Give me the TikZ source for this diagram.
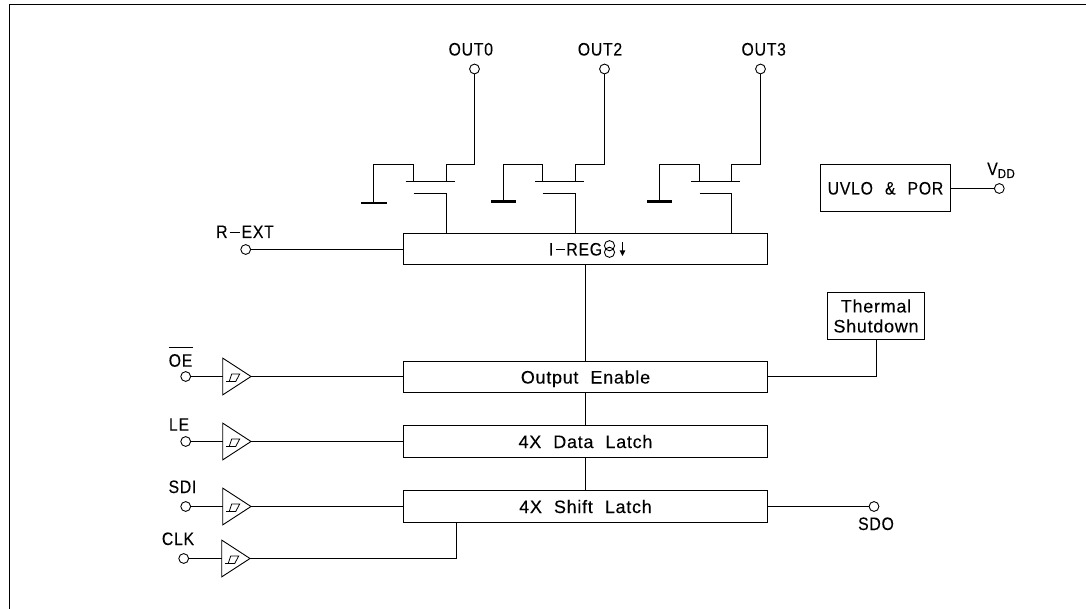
\documentclass[tikz,border=0pt]{standalone}
\usepackage{fontspec}
\setmainfont[LetterSpace=4,FakeBold=0.12]{Liberation Sans}
\newfontfamily\capf[LetterSpace=4,FakeStretch=0.88,FakeBold=0.12]{Liberation Sans}
\usetikzlibrary{calc}
\tikzset{
  wire/.style={line width=1pt,line join=miter},
  pin/.style={circle,draw,line width=0.9pt,minimum size=9.8pt,inner sep=0pt,fill=white},
  block/.style={rectangle,draw,line width=1pt,inner sep=0pt,text height=13pt,text depth=0pt,align=center},
  wideblock/.style={block,minimum width=364pt,minimum height=31pt},
  lbl/.style={inner sep=0pt,text height=13pt,text depth=0pt,anchor=base,font=\fs\capf},
  buf/.style={draw,line width=0.9pt},
  hyst/.style={line width=0.8pt}
}
\newcommand{\fs}{\fontsize{18}{20}\selectfont}
\newcommand{\wgap}{\hspace{12pt}}
\newcommand{\buffer}[3]{% name, left x, centre y
  \coordinate (#1) at (#2,#3);
  \draw[buf] (#2,#3-18.4) -- (#2+28.3,#3) -- (#2,#3+18.4) -- cycle;
  \draw[hyst] (#2+3.5,#3+5) -- (#2+13,#3+5) -- (#2+17,#3-2.5) -- (#2+9,#3-2.5) -- (#2+6.5,#3+5);
}
\begin{document}
\begin{tikzpicture}[x=1pt,y=-1pt,every node/.append style={font=\fs}]
\useasboundingbox (0,0) rectangle (1086,609);
\draw[line width=1.2pt] (9.5,609) -- (9.5,4.5) -- (1086,4.5);

% main blocks
\node[wideblock] (ireg) at (585.5,249) {\capf\hspace{-21pt}I\hspace{3pt}\rule[5pt]{9pt}{1.2pt}\hspace{1pt}REG\hspace{-1pt}};
\node[wideblock] (oen) at (585.5,377) {Output\wgap Enable};
\node[wideblock,minimum height=32pt] (dl) at (585.5,441.5) {4X\wgap Data\wgap Latch};
\node[wideblock,minimum height=32pt] (sl) at (585.5,506.5) {4X\wgap Shift\wgap Latch};
\node[block,minimum width=130pt,minimum height=47pt] (uvlo) at (885.5,188) {\capf UVLO\hspace{12pt}\&\hspace{12pt}POR};
\node[rectangle,draw,line width=1pt,inner sep=0pt,minimum width=97pt,minimum height=47pt,align=center] (therm) at (876,316) {Thermal\\[0pt]Shutdown};

% current source symbol
\coordinate (isym) at (609.5,249);
\draw[line width=0.9pt] ($(isym)+(0,-3.3)$) circle (5.1pt);
\draw[line width=0.9pt] ($(isym)+(0,3.3)$) circle (5.1pt);
\coordinate (arrt) at (622.5,242.5);
\coordinate (arrb) at (622.5,256);
\draw[line width=1pt] (arrt) -- ($(arrb)+(0,-4)$);
\fill (619.7,250.5) -- (625.3,250.5) -- (arrb) -- cycle;

% pins
\node[pin] (out0) at (474.5,69) {};
\node[pin] (out2) at (604.5,69) {};
\node[pin] (out3) at (760.5,69) {};
\node[pin] (vdd) at (999.3,188.5) {};
\node[pin] (rext) at (245.7,249.5) {};
\node[pin] (sdo) at (874,506.5) {};
\node[pin] (oepin) at (185.7,376.5) {};
\node[pin] (lepin) at (185.7,441.5) {};
\node[pin] (sdipin) at (185.7,506.5) {};
\node[pin] (clkpin) at (183.7,558.5) {};

% pin labels
\node[lbl] (lout0) at (470.8,55.5) {OUT0};
\node[lbl] (lout2) at (600,55.5) {OUT2};
\node[lbl] (lout3) at (763.7,55.5) {OUT3};
\node[lbl] (lrext) at (245,238) {R\hspace{2pt}\rule[5pt]{10pt}{1.2pt}\hspace{2pt}EXT};
\node[lbl] (lsdo) at (876,530) {SDO};
\node[lbl] (loe) at (180.5,366.7) {OE};
\draw[line width=1pt] (169,347.5) -- (193,347.5);
\node[lbl] (lle) at (179,430.7) {LE};
\node[lbl] (lsdi) at (182.5,493) {SDI};
\node[lbl] (lclk) at (178,545) {CLK};
\node[lbl,anchor=base west] (lvdd) at (987,175) {V\raisebox{-3pt}{\fontsize{13}{13}\selectfont DD}};

% buffers
\buffer{b1}{222.7}{376.5}
\buffer{b2}{222.7}{441.5}
\buffer{b3}{222.7}{506.5}
\buffer{b4}{221.7}{558.5}
\coordinate (b1o) at (251,376.5);
\coordinate (b2o) at (251,441.5);
\coordinate (b3o) at (251,506.5);
\coordinate (b4o) at (250,558.5);
\coordinate (clkup) at (456.5,558.5);
\coordinate (thx) at (876.5,376.5);

\draw[wire] (oepin) -- (b1);
\draw[wire] (lepin) -- (b2);
\draw[wire] (sdipin) -- (b3);
\draw[wire] (clkpin) -- (b4);
\draw[wire] (b1o) -- (b1o -| oen.west);
\draw[wire] (b2o) -- (dl.west);
\draw[wire] (b3o) -- (sl.west);
\draw[wire] (b4o) -- (clkup) -- (clkup |- sl.south);
\draw[wire] (rext) -- (rext -| ireg.west);
\draw[wire] (sl.east) -- (sdo);
\draw[wire] (vdd -| uvlo.east) -- (vdd);
\draw[wire] (ireg.south) -- (oen.north);
\draw[wire] (oen.south) -- (dl.north);
\draw[wire] (dl.south) -- (sl.north);
\draw[wire] (thx -| oen.east) -- (thx) -- (thx |- therm.south);

% transistors
\foreach \nm/\lo/\bl/\br/\dl/\dr/\gx/\gw/\gy/\gt in {
  out0/373.5/405.5/454.5/413.5/446.5/361/386.7/203/2,
  out2/503.5/535/583.5/542.5/575.5/491/516.3/201.5/3,
  out3/659.5/691/739.5/699.5/731.5/647/672.3/201.5/3}{
  \coordinate (gate) at (\dl,193.5);
  \coordinate (gatec) at (\dr,193.5);
  \draw[wire] (\nm.south) |- (\dr,164.5) -- (\dr,181.5);
  \draw[wire] (\dl,181.5) -- (\dl,164.5) -- (\lo,164.5) -- (\lo,\gy);
  \draw[wire] (\bl,181.5) -- (\br,181.5);
  \draw[wire] (gate) -- (gatec) -- (gatec |- ireg.north);
  \draw[line width=\gt pt] (\gx,\gy) -- (\gw,\gy);
}
\end{tikzpicture}
\end{document}
